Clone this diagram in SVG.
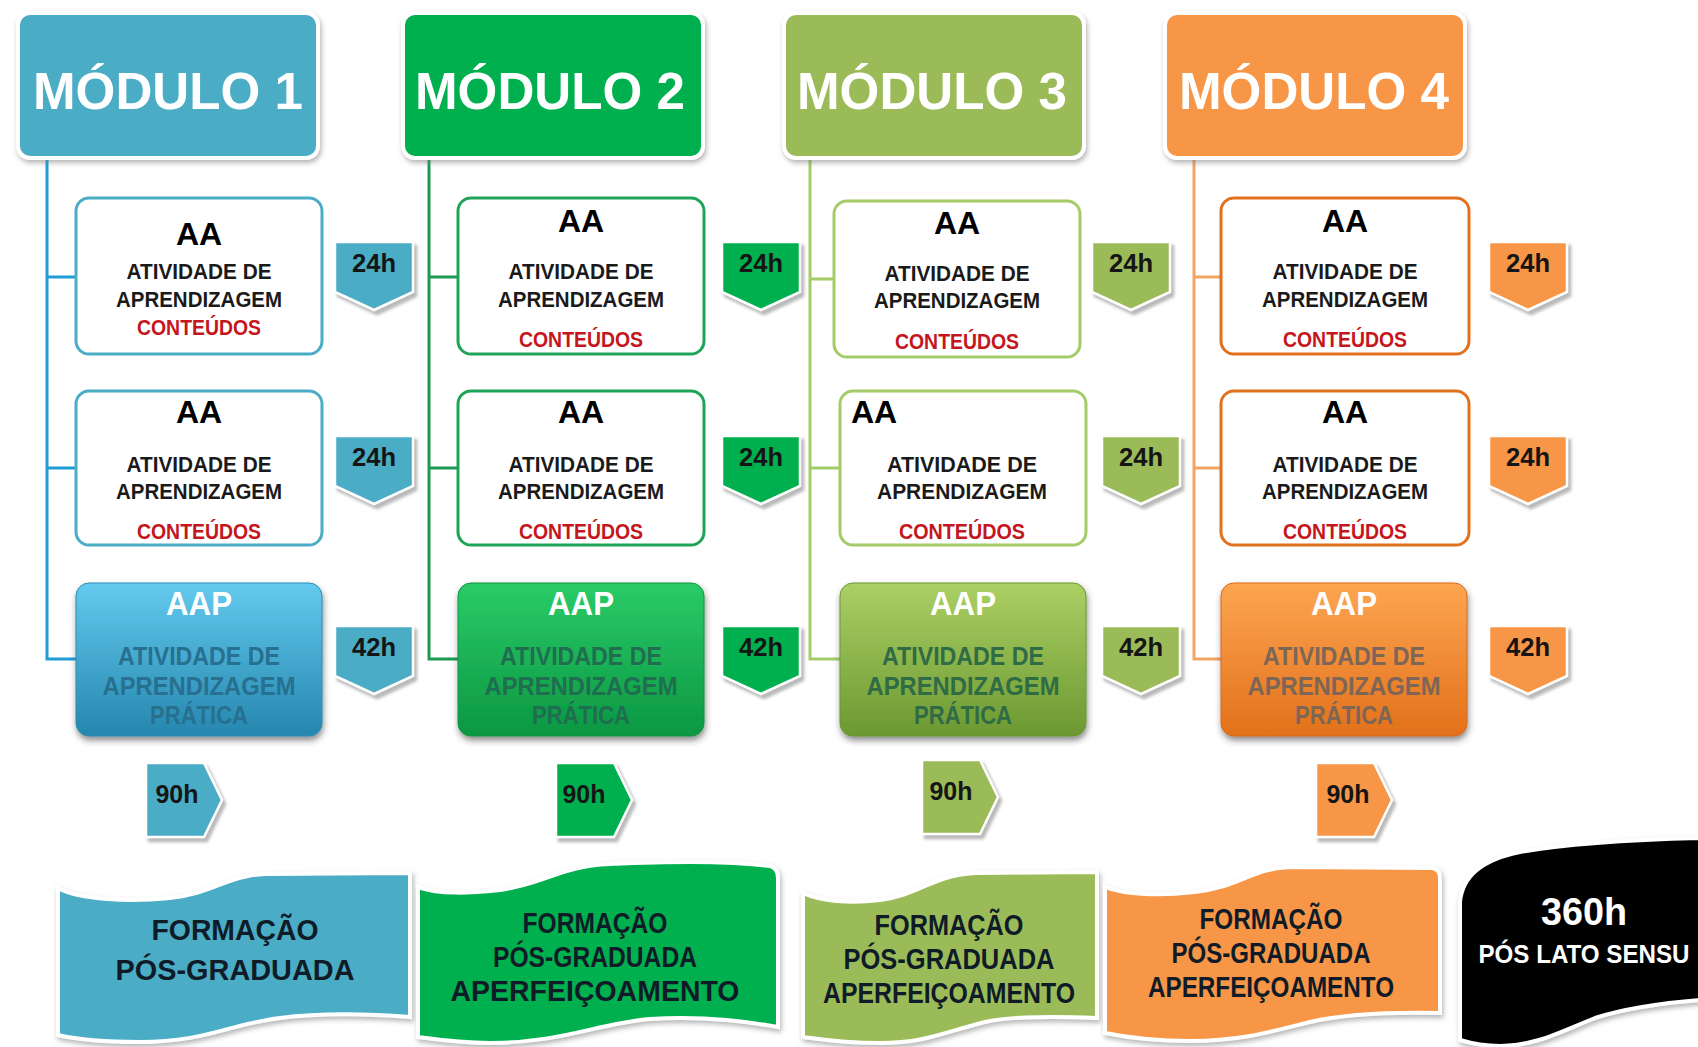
<svg xmlns="http://www.w3.org/2000/svg" width="1698" height="1047" viewBox="0 0 1698 1047">
<defs>
<style>
text{font-family:"Liberation Sans",Arial,sans-serif;font-weight:bold;text-anchor:middle}
.hd{font-size:52px;fill:#fff}
.aa{font-size:32px;fill:#000}
.sm{font-size:22px;fill:#1a1a1a}
.ct{font-size:22px;fill:#C4161C}
.h{font-size:25px;fill:#151515}
.ap{font-size:33px;fill:#fff}
.apt{font-size:25px}
.bn{font-size:29px;fill:#0F1C28}
.hdbox{stroke:#fff;stroke-width:4}
.box{fill:#fff;stroke-width:3}
.tag{stroke:#fff;stroke-width:2.5}
.ln{fill:none;stroke-width:3}
.ban{stroke:#fff;stroke-width:4}
</style>
<filter id="sh" x="-10%" y="-10%" width="125%" height="130%">
<feDropShadow dx="1.5" dy="3" stdDeviation="2.5" flood-color="#7a7a7a" flood-opacity="0.55"/>
</filter>
<filter id="shd" x="-10%" y="-10%" width="125%" height="130%">
<feDropShadow dx="1" dy="4" stdDeviation="3" flood-color="#333" flood-opacity="0.55"/>
</filter>
<filter id="sht" x="-20%" y="-20%" width="150%" height="150%">
<feDropShadow dx="3" dy="4" stdDeviation="1.5" flood-color="#a8a8a8" flood-opacity="0.8"/>
</filter>
<path id="chev" d="M0,0H78V50L39,68L0,50Z"/>
<path id="pent" d="M0,0H58L76,37L58,74H0Z"/>
<linearGradient id="g1" x1="0" y1="0" x2="0" y2="1"><stop offset="0" stop-color="#63CAEE"/><stop offset="1" stop-color="#2586AE"/></linearGradient>
<linearGradient id="g2" x1="0" y1="0" x2="0" y2="1"><stop offset="0" stop-color="#2BCB68"/><stop offset="1" stop-color="#0B9742"/></linearGradient>
<linearGradient id="g3" x1="0" y1="0" x2="0" y2="1"><stop offset="0" stop-color="#ABD064"/><stop offset="1" stop-color="#6C9832"/></linearGradient>
<linearGradient id="g4" x1="0" y1="0" x2="0" y2="1"><stop offset="0" stop-color="#FDA552"/><stop offset="1" stop-color="#E2711A"/></linearGradient>
</defs>
<rect x="0" y="0" width="1698" height="1047" fill="#fff"/>

<g id="connectors">
<path class="ln" stroke="#1F9ED6" d="M47,158V659H76M47,277H76M47,468H76"/>
<path class="ln" stroke="#1E9A55" d="M429,158V659H458M429,277H458M429,468H458"/>
<path class="ln" stroke="#A3CC68" d="M810,158V659H840M810,279H834M810,468H840"/>
<path class="ln" stroke="#F2A465" d="M1194,158V659H1221M1194,277H1221M1194,468H1221"/>
</g>

<!-- MODULE 1 -->
<g id="m1-header"><rect class="hdbox" x="18" y="13" width="300" height="145" rx="12" fill="#4BACC6" filter="url(#sh)"/><text class="hd" x="168" y="109" textLength="270" lengthAdjust="spacingAndGlyphs">MÓDULO 1</text></g>
<g id="m1-aa1"><rect class="box" x="76" y="198" width="246" height="156" rx="13" stroke="#4BACC6"/>
<text class="aa" x="199" y="245">AA</text>
<text class="sm" x="199" y="279" textLength="145" lengthAdjust="spacingAndGlyphs">ATIVIDADE DE</text>
<text class="sm" x="199" y="307" textLength="166" lengthAdjust="spacingAndGlyphs">APRENDIZAGEM</text>
<text class="ct" x="199" y="335" textLength="124" lengthAdjust="spacingAndGlyphs">CONTEÚDOS</text></g>
<g id="m1-h1"><use href="#chev" x="335" y="242" fill="#4BACC6" class="tag" filter="url(#sht)"/><text class="h" x="374" y="272" textLength="44" lengthAdjust="spacingAndGlyphs">24h</text></g>
<g id="m1-aa2"><rect class="box" x="76" y="391" width="246" height="154" rx="13" stroke="#4BACC6"/>
<text class="aa" x="199" y="423">AA</text>
<text class="sm" x="199" y="472" textLength="145" lengthAdjust="spacingAndGlyphs">ATIVIDADE DE</text>
<text class="sm" x="199" y="499" textLength="166" lengthAdjust="spacingAndGlyphs">APRENDIZAGEM</text>
<text class="ct" x="199" y="539" textLength="124" lengthAdjust="spacingAndGlyphs">CONTEÚDOS</text></g>
<g id="m1-h2"><use href="#chev" x="335" y="436" fill="#4BACC6" class="tag" filter="url(#sht)"/><text class="h" x="374" y="466" textLength="44" lengthAdjust="spacingAndGlyphs">24h</text></g>
<g id="m1-aap"><rect x="76" y="583" width="246" height="153" rx="13" fill="url(#g1)" stroke="#2E8DB3" stroke-width="1" filter="url(#shd)"/>
<text class="ap" x="199" y="615" textLength="66" lengthAdjust="spacingAndGlyphs">AAP</text>
<text class="apt" x="199" y="665" fill="#27708F" textLength="162" lengthAdjust="spacingAndGlyphs">ATIVIDADE DE</text>
<text class="apt" x="199" y="695" fill="#27708F" textLength="193" lengthAdjust="spacingAndGlyphs">APRENDIZAGEM</text>
<text class="apt" x="199" y="724" fill="#27708F" textLength="98" lengthAdjust="spacingAndGlyphs">PRÁTICA</text></g>
<g id="m1-h3"><use href="#chev" x="335" y="626" fill="#4BACC6" class="tag" filter="url(#sht)"/><text class="h" x="374" y="656" textLength="44" lengthAdjust="spacingAndGlyphs">42h</text></g>
<g id="m1-total"><use href="#pent" x="146" y="763" fill="#4BACC6" class="tag" filter="url(#sht)"/><text class="h" x="177" y="803" textLength="43" lengthAdjust="spacingAndGlyphs">90h</text></g>

<!-- MODULE 2 -->
<g id="m2-header"><rect class="hdbox" x="403" y="13" width="300" height="145" rx="12" fill="#00B050" filter="url(#sh)"/><text class="hd" x="550" y="109" textLength="270" lengthAdjust="spacingAndGlyphs">MÓDULO 2</text></g>
<g id="m2-aa1"><rect class="box" x="458" y="198" width="246" height="156" rx="13" stroke="#1FA357"/>
<text class="aa" x="581" y="232">AA</text>
<text class="sm" x="581" y="279" textLength="145" lengthAdjust="spacingAndGlyphs">ATIVIDADE DE</text>
<text class="sm" x="581" y="307" textLength="166" lengthAdjust="spacingAndGlyphs">APRENDIZAGEM</text>
<text class="ct" x="581" y="347" textLength="124" lengthAdjust="spacingAndGlyphs">CONTEÚDOS</text></g>
<g id="m2-h1"><use href="#chev" x="722" y="242" fill="#00B050" class="tag" filter="url(#sht)"/><text class="h" x="761" y="272" textLength="44" lengthAdjust="spacingAndGlyphs">24h</text></g>
<g id="m2-aa2"><rect class="box" x="458" y="391" width="246" height="154" rx="13" stroke="#1FA357"/>
<text class="aa" x="581" y="423">AA</text>
<text class="sm" x="581" y="472" textLength="145" lengthAdjust="spacingAndGlyphs">ATIVIDADE DE</text>
<text class="sm" x="581" y="499" textLength="166" lengthAdjust="spacingAndGlyphs">APRENDIZAGEM</text>
<text class="ct" x="581" y="539" textLength="124" lengthAdjust="spacingAndGlyphs">CONTEÚDOS</text></g>
<g id="m2-h2"><use href="#chev" x="722" y="436" fill="#00B050" class="tag" filter="url(#sht)"/><text class="h" x="761" y="466" textLength="44" lengthAdjust="spacingAndGlyphs">24h</text></g>
<g id="m2-aap"><rect x="458" y="583" width="246" height="153" rx="13" fill="url(#g2)" stroke="#0E9444" stroke-width="1" filter="url(#shd)"/>
<text class="ap" x="581" y="615" textLength="66" lengthAdjust="spacingAndGlyphs">AAP</text>
<text class="apt" x="581" y="665" fill="#1F6E50" textLength="162" lengthAdjust="spacingAndGlyphs">ATIVIDADE DE</text>
<text class="apt" x="581" y="695" fill="#1F6E50" textLength="193" lengthAdjust="spacingAndGlyphs">APRENDIZAGEM</text>
<text class="apt" x="581" y="724" fill="#1F6E50" textLength="98" lengthAdjust="spacingAndGlyphs">PRÁTICA</text></g>
<g id="m2-h3"><use href="#chev" x="722" y="626" fill="#00B050" class="tag" filter="url(#sht)"/><text class="h" x="761" y="656" textLength="44" lengthAdjust="spacingAndGlyphs">42h</text></g>
<g id="m2-total"><use href="#pent" x="556" y="763" fill="#00B050" class="tag" filter="url(#sht)"/><text class="h" x="584" y="803" textLength="43" lengthAdjust="spacingAndGlyphs">90h</text></g>

<!-- MODULE 3 -->
<g id="m3-header"><rect class="hdbox" x="784" y="13" width="300" height="145" rx="12" fill="#9BBB59" filter="url(#sh)"/><text class="hd" x="932" y="109" textLength="270" lengthAdjust="spacingAndGlyphs">MÓDULO 3</text></g>
<g id="m3-aa1"><rect class="box" x="834" y="201" width="246" height="156" rx="13" stroke="#A3CC68"/>
<text class="aa" x="957" y="234">AA</text>
<text class="sm" x="957" y="281" textLength="145" lengthAdjust="spacingAndGlyphs">ATIVIDADE DE</text>
<text class="sm" x="957" y="308" textLength="166" lengthAdjust="spacingAndGlyphs">APRENDIZAGEM</text>
<text class="ct" x="957" y="349" textLength="124" lengthAdjust="spacingAndGlyphs">CONTEÚDOS</text></g>
<g id="m3-h1"><use href="#chev" x="1092" y="242" fill="#9BBB59" class="tag" filter="url(#sht)"/><text class="h" x="1131" y="272" textLength="44" lengthAdjust="spacingAndGlyphs">24h</text></g>
<g id="m3-aa2"><rect class="box" x="840" y="391" width="246" height="154" rx="13" stroke="#A3CC68"/>
<text class="aa" x="851" y="423" style="text-anchor:start">AA</text>
<text class="sm" x="962" y="472" textLength="150" lengthAdjust="spacingAndGlyphs">ATIVIDADE DE</text>
<text class="sm" x="962" y="499" textLength="170" lengthAdjust="spacingAndGlyphs">APRENDIZAGEM</text>
<text class="ct" x="962" y="539" textLength="126" lengthAdjust="spacingAndGlyphs">CONTEÚDOS</text></g>
<g id="m3-h2"><use href="#chev" x="1102" y="436" fill="#9BBB59" class="tag" filter="url(#sht)"/><text class="h" x="1141" y="466" textLength="44" lengthAdjust="spacingAndGlyphs">24h</text></g>
<g id="m3-aap"><rect x="840" y="583" width="246" height="153" rx="13" fill="url(#g3)" stroke="#6C9832" stroke-width="1" filter="url(#shd)"/>
<text class="ap" x="963" y="615" textLength="66" lengthAdjust="spacingAndGlyphs">AAP</text>
<text class="apt" x="963" y="665" fill="#2F6C45" textLength="162" lengthAdjust="spacingAndGlyphs">ATIVIDADE DE</text>
<text class="apt" x="963" y="695" fill="#2F6C45" textLength="193" lengthAdjust="spacingAndGlyphs">APRENDIZAGEM</text>
<text class="apt" x="963" y="724" fill="#2F6C45" textLength="98" lengthAdjust="spacingAndGlyphs">PRÁTICA</text></g>
<g id="m3-h3"><use href="#chev" x="1102" y="626" fill="#9BBB59" class="tag" filter="url(#sht)"/><text class="h" x="1141" y="656" textLength="44" lengthAdjust="spacingAndGlyphs">42h</text></g>
<g id="m3-total"><use href="#pent" x="922" y="760" fill="#9BBB59" class="tag" filter="url(#sht)"/><text class="h" x="951" y="800" textLength="43" lengthAdjust="spacingAndGlyphs">90h</text></g>

<!-- MODULE 4 -->
<g id="m4-header"><rect class="hdbox" x="1165" y="13" width="300" height="145" rx="12" fill="#F79646" filter="url(#sh)"/><text class="hd" x="1314" y="109" textLength="270" lengthAdjust="spacingAndGlyphs">MÓDULO 4</text></g>
<g id="m4-aa1"><rect class="box" x="1221" y="198" width="248" height="156" rx="13" stroke="#E2711D"/>
<text class="aa" x="1345" y="232">AA</text>
<text class="sm" x="1345" y="279" textLength="145" lengthAdjust="spacingAndGlyphs">ATIVIDADE DE</text>
<text class="sm" x="1345" y="307" textLength="166" lengthAdjust="spacingAndGlyphs">APRENDIZAGEM</text>
<text class="ct" x="1345" y="347" textLength="124" lengthAdjust="spacingAndGlyphs">CONTEÚDOS</text></g>
<g id="m4-h1"><use href="#chev" x="1489" y="242" fill="#F79646" class="tag" filter="url(#sht)"/><text class="h" x="1528" y="272" textLength="44" lengthAdjust="spacingAndGlyphs">24h</text></g>
<g id="m4-aa2"><rect class="box" x="1221" y="391" width="248" height="154" rx="13" stroke="#E2711D"/>
<text class="aa" x="1345" y="423">AA</text>
<text class="sm" x="1345" y="472" textLength="145" lengthAdjust="spacingAndGlyphs">ATIVIDADE DE</text>
<text class="sm" x="1345" y="499" textLength="166" lengthAdjust="spacingAndGlyphs">APRENDIZAGEM</text>
<text class="ct" x="1345" y="539" textLength="124" lengthAdjust="spacingAndGlyphs">CONTEÚDOS</text></g>
<g id="m4-h2"><use href="#chev" x="1489" y="436" fill="#F79646" class="tag" filter="url(#sht)"/><text class="h" x="1528" y="466" textLength="44" lengthAdjust="spacingAndGlyphs">24h</text></g>
<g id="m4-aap"><rect x="1221" y="583" width="246" height="153" rx="13" fill="url(#g4)" stroke="#D96A16" stroke-width="1" filter="url(#shd)"/>
<text class="ap" x="1344" y="615" textLength="66" lengthAdjust="spacingAndGlyphs">AAP</text>
<text class="apt" x="1344" y="665" fill="#7D6656" textLength="162" lengthAdjust="spacingAndGlyphs">ATIVIDADE DE</text>
<text class="apt" x="1344" y="695" fill="#7D6656" textLength="193" lengthAdjust="spacingAndGlyphs">APRENDIZAGEM</text>
<text class="apt" x="1344" y="724" fill="#7D6656" textLength="98" lengthAdjust="spacingAndGlyphs">PRÁTICA</text></g>
<g id="m4-h3"><use href="#chev" x="1489" y="626" fill="#F79646" class="tag" filter="url(#sht)"/><text class="h" x="1528" y="656" textLength="44" lengthAdjust="spacingAndGlyphs">42h</text></g>
<g id="m4-total"><use href="#pent" x="1316" y="763" fill="#F79646" class="tag" filter="url(#sht)"/><text class="h" x="1348" y="803" textLength="43" lengthAdjust="spacingAndGlyphs">90h</text></g>

<!-- BANNERS -->
<g id="banner1"><path class="ban" fill="#4BACC6" filter="url(#sh)" d="M58,888C80,900 130,902 170,898C215,893 225,876 265,874L410,873L410,1017C370,1014 320,1013 280,1018C230,1024 205,1042 140,1042C100,1042 75,1039 58,1035Z"/>
<text class="bn" x="235" y="940" textLength="167" lengthAdjust="spacingAndGlyphs">FORMAÇÃO</text>
<text class="bn" x="235" y="980" textLength="239" lengthAdjust="spacingAndGlyphs">PÓS-GRADUADA</text></g>
<g id="banner2"><path class="ban" fill="#00B050" filter="url(#sh)" d="M418,887C440,895 470,893 500,890C545,884 560,866 610,864C660,862 720,860 770,866Q778,868 778,878L778,1027C740,1020 700,1016 650,1019C600,1023 560,1043 490,1043C460,1043 440,1040 418,1037Z"/>
<text class="bn" x="595" y="933" textLength="145" lengthAdjust="spacingAndGlyphs">FORMAÇÃO</text>
<text class="bn" x="595" y="967" textLength="204" lengthAdjust="spacingAndGlyphs">PÓS-GRADUADA</text>
<text class="bn" x="595" y="1001" textLength="289" lengthAdjust="spacingAndGlyphs">APERFEIÇOAMENTO</text></g>
<g id="banner3"><path class="ban" fill="#9BBB59" filter="url(#sh)" d="M803,893C820,901 850,904 880,900C920,895 930,876 975,873L1097,872L1097,1018C1050,1016 1010,1016 985,1022C945,1032 925,1043 880,1043C845,1043 825,1040 803,1037Z"/>
<text class="bn" x="949" y="935" textLength="149" lengthAdjust="spacingAndGlyphs">FORMAÇÃO</text>
<text class="bn" x="949" y="969" textLength="211" lengthAdjust="spacingAndGlyphs">PÓS-GRADUADA</text>
<text class="bn" x="949" y="1003" textLength="252" lengthAdjust="spacingAndGlyphs">APERFEIÇOAMENTO</text></g>
<g id="banner4"><path class="ban" fill="#F79646" filter="url(#sh)" d="M1105,887C1125,895 1160,896 1195,892C1240,887 1250,869 1290,867L1432,868Q1440,869 1440,878L1440,1013C1390,1012 1340,1015 1310,1022C1270,1032 1240,1041 1190,1041C1150,1041 1125,1037 1105,1033Z"/>
<text class="bn" x="1271" y="929" textLength="143" lengthAdjust="spacingAndGlyphs">FORMAÇÃO</text>
<text class="bn" x="1271" y="963" textLength="199" lengthAdjust="spacingAndGlyphs">PÓS-GRADUADA</text>
<text class="bn" x="1271" y="997" textLength="246" lengthAdjust="spacingAndGlyphs">APERFEIÇOAMENTO</text></g>
<g id="banner5"><path class="ban" fill="#000" filter="url(#sh)" d="M1460,902C1462,878 1480,860 1520,852C1560,845 1620,840 1700,838L1700,1000C1650,1004 1620,1010 1595,1018C1560,1032 1535,1046 1500,1046C1485,1046 1470,1043 1460,1040Z"/>
<text x="1584" y="925" style="font-size:38px;fill:#fff" textLength="86" lengthAdjust="spacingAndGlyphs">360h</text>
<text x="1584" y="963" style="font-size:25px;fill:#fff" textLength="211" lengthAdjust="spacingAndGlyphs">PÓS LATO SENSU</text></g>
</svg>
